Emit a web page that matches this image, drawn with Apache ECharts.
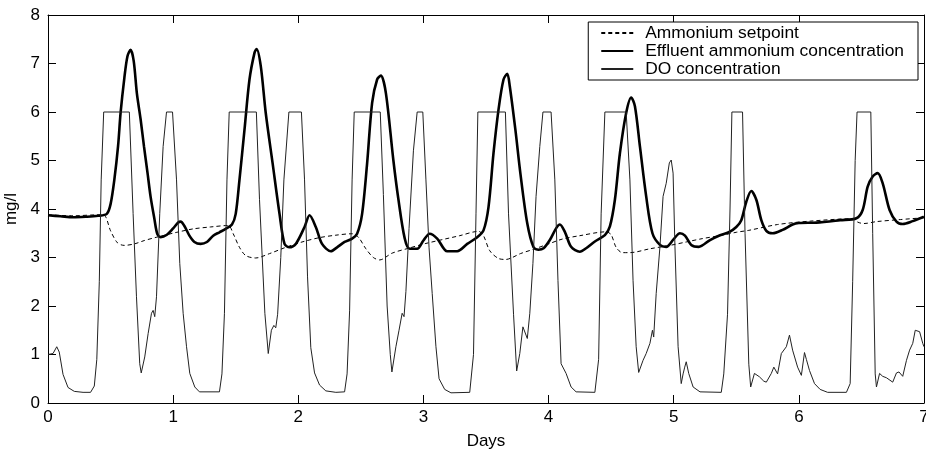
<!DOCTYPE html>
<html><head><meta charset="utf-8">
<script src="https://cdn.jsdelivr.net/npm/echarts@6/dist/echarts.min.js"></script>
<style>html,body{margin:0;padding:0;background:#fff}#c{width:926px;height:450px}</style>
</head><body><div id="c"></div>
<script>
const xTicks = [0,1,2,3,4,5,6,7];
const yTicks = [0,1,2,3,4,5,6,7,8];
const seriesNames = ['Ammonium setpoint','Effluent ammonium concentration','DO concentration'];

const setpointDays = [0,0.2,0.4,0.45,0.5,0.556,0.61,0.69,0.77,0.87,1.03,1.16,1.3,1.44,1.48,1.53,1.58,1.66,1.77,1.9,2.03,2.17,2.3,2.43,2.48,2.54,2.6,2.65,2.75,2.88,3.02,3.29,3.44,3.48,3.53,3.6,3.66,3.71,3.775,3.88,4.0,4.11,4.25,4.46,4.5,4.54,4.59,4.65,4.81,4.97,5.1,5.23,5.39,5.5,5.6,5.83,6.09,6.44,6.47,6.52,6.62,6.8,7.0];
const setpointVals = [3.88,3.86,3.88,3.87,3.55,3.3,3.25,3.28,3.35,3.42,3.52,3.59,3.63,3.66,3.49,3.21,3.04,2.99,3.08,3.21,3.32,3.41,3.46,3.49,3.42,3.18,3.0,2.95,3.09,3.19,3.29,3.45,3.54,3.45,3.14,2.98,2.96,3.0,3.08,3.17,3.28,3.38,3.45,3.53,3.47,3.21,3.1,3.1,3.18,3.25,3.32,3.39,3.46,3.52,3.56,3.68,3.75,3.8,3.73,3.7,3.74,3.78,3.82];

const effluentDays = [0,0.1,0.2,0.3,0.4,0.47,0.5,0.53,0.56,0.58,0.61,0.635,0.66,0.685,0.71,0.74,0.767,0.795,0.82,0.85,0.873,0.9,0.95,1.0,1.04,1.06,1.09,1.13,1.17,1.22,1.27,1.32,1.37,1.42,1.47,1.5,1.53,1.57,1.61,1.65,1.667,1.7,1.74,1.795,1.85,1.89,1.93,1.98,2.05,2.09,2.14,2.19,2.26,2.31,2.37,2.43,2.47,2.51,2.55,2.59,2.63,2.66,2.7,2.76,2.8,2.85,2.89,2.95,3.0,3.05,3.11,3.19,3.27,3.35,3.43,3.48,3.52,3.56,3.6,3.64,3.67,3.69,3.735,3.775,3.83,3.88,3.92,3.96,4.01,4.06,4.09,4.13,4.18,4.25,4.3,4.37,4.45,4.49,4.53,4.57,4.62,4.66,4.69,4.73,4.78,4.83,4.89,4.94,5.0,5.05,5.09,5.14,5.2,5.29,5.37,5.44,5.5,5.54,5.58,5.62,5.66,5.7,5.74,5.79,5.87,5.95,6.0,6.14,6.33,6.46,6.51,6.55,6.59,6.63,6.67,6.725,6.78,6.83,6.91,7.0];
const effluentVals = [3.87,3.85,3.83,3.84,3.86,3.9,4.1,4.6,5.3,5.98,6.7,7.15,7.28,7.05,6.39,5.85,5.29,4.75,4.25,3.8,3.49,3.42,3.47,3.6,3.72,3.74,3.65,3.45,3.32,3.28,3.32,3.45,3.52,3.59,3.68,3.9,4.6,5.63,6.67,7.22,7.3,6.95,5.98,4.94,3.9,3.28,3.21,3.28,3.63,3.87,3.63,3.28,3.13,3.21,3.32,3.39,3.49,3.9,4.94,6.19,6.67,6.75,6.39,5.0,4.2,3.4,3.18,3.18,3.35,3.49,3.39,3.13,3.13,3.28,3.42,3.56,4.04,5.15,6.05,6.67,6.79,6.53,5.63,4.73,3.7,3.21,3.16,3.19,3.36,3.6,3.68,3.53,3.22,3.12,3.19,3.33,3.46,3.64,4.19,5.15,5.98,6.3,6.12,5.29,4.26,3.5,3.26,3.22,3.38,3.5,3.45,3.26,3.22,3.36,3.46,3.52,3.63,3.77,4.15,4.37,4.19,3.77,3.55,3.5,3.57,3.68,3.71,3.72,3.77,3.81,3.98,4.46,4.67,4.74,4.53,3.98,3.74,3.69,3.75,3.84];

const doDays = [0,0.04,0.07,0.09,0.12,0.16,0.21,0.28,0.34,0.37,0.39,0.41,0.425,0.445,0.65,0.68,0.707,0.733,0.745,0.773,0.8,0.827,0.84,0.853,0.867,0.893,0.92,0.947,0.995,1.027,1.053,1.08,1.107,1.133,1.173,1.21,1.37,1.39,1.41,1.43,1.448,1.665,1.69,1.733,1.76,1.785,1.805,1.82,1.835,1.86,1.885,1.925,2.025,2.05,2.074,2.1,2.13,2.17,2.22,2.3,2.37,2.39,2.41,2.43,2.447,2.655,2.68,2.71,2.735,2.748,2.78,2.805,2.83,2.845,2.86,2.885,2.92,2.95,2.995,3.02,3.045,3.07,3.1,3.125,3.17,3.22,3.37,3.4,3.42,3.435,3.655,3.68,3.72,3.745,3.77,3.795,3.81,3.83,3.85,3.875,3.9,3.93,3.955,4.02,4.05,4.075,4.1,4.14,4.18,4.22,4.37,4.4,4.42,4.45,4.62,4.65,4.675,4.7,4.72,4.755,4.78,4.81,4.83,4.84,4.86,4.89,4.915,4.94,4.965,4.98,4.995,5.01,5.035,5.06,5.075,5.088,5.1,5.12,5.155,5.21,5.38,5.4,5.43,5.45,5.465,5.55,5.57,5.6,5.615,5.645,5.685,5.72,5.74,5.78,5.8,5.83,5.86,5.9,5.925,5.95,5.99,6.02,6.045,6.06,6.085,6.125,6.17,6.23,6.38,6.41,6.43,6.45,6.465,6.575,6.59,6.61,6.62,6.645,6.67,6.7,6.75,6.78,6.8,6.83,6.86,6.885,6.91,6.93,6.965,6.99,7.0];
const doVals = [1.0,1.02,1.16,1.05,0.59,0.32,0.24,0.22,0.22,0.35,0.9,2.5,4.6,6.0,6.0,3.91,2.19,0.81,0.62,0.95,1.43,1.85,1.91,1.78,2.19,3.91,5.29,6.0,6.0,4.6,2.88,1.85,1.16,0.61,0.33,0.23,0.23,0.6,1.85,4.6,6.0,6.0,4.2,1.85,1.02,1.5,1.6,1.55,1.83,3.0,4.6,6.0,6.0,4.6,2.6,1.14,0.62,0.37,0.25,0.22,0.23,0.6,1.9,4.6,6.0,6.0,4.3,2.0,1.0,0.64,1.16,1.5,1.85,1.78,2.3,3.6,5.2,6.0,6.0,4.6,3.2,2.26,1.16,0.5,0.28,0.21,0.22,1.0,3.9,6.0,6.0,3.9,1.83,0.66,1.02,1.57,1.6,1.33,1.85,2.88,4.26,5.29,6.0,6.0,4.6,2.53,0.81,0.61,0.33,0.23,0.22,0.9,3.9,6.0,6.0,4.6,2.53,1.16,0.63,0.88,1.02,1.23,1.5,1.36,2.26,3.22,4.26,4.53,4.95,5.01,4.74,3.22,1.16,0.4,0.6,0.74,0.85,0.61,0.33,0.23,0.22,0.6,1.83,4.0,6.0,6.0,3.5,0.8,0.33,0.61,0.54,0.45,0.43,0.61,0.74,0.6,1.02,1.16,1.4,1.09,0.74,0.57,1.04,0.9,0.67,0.4,0.28,0.22,0.22,0.4,2.5,5.0,6.0,6.0,3.5,0.6,0.33,0.61,0.55,0.52,0.43,0.62,0.64,0.55,0.88,1.09,1.23,1.5,1.47,1.23,1.16];

function zip(a,b){return a.map((v,i)=>[v,b[i]]);}

const FONT = 'Liberation Sans, Arial, sans-serif';
const chart = echarts.init(document.getElementById('c'), null, {renderer:'canvas'});
const axisCommon = {
  axisLine:{show:true,onZero:false,lineStyle:{color:'#000',width:1}},
  axisTick:{show:true,inside:true,length:8,lineStyle:{color:'#000',width:1}},
  splitLine:{show:false}
};
chart.setOption({
  animation:false,
  backgroundColor:'#fff',
  grid:{left:48,right:2,top:15,bottom:47,containLabel:false,outerBoundsMode:'none'},
  legend:{
    data:seriesNames,
    orient:'vertical',
    right:8, top:22,
    backgroundColor:'#fff',
    borderColor:'#000', borderWidth:1, borderRadius:0,
    padding:[2,14,2,12],
    itemGap:0,
    itemWidth:32, itemHeight:12,
    itemStyle:{color:'rgba(0,0,0,0)',borderWidth:0,opacity:0},
    textStyle:{fontFamily:FONT,fontSize:17.4,lineHeight:18,color:'#000',padding:[0,0,0,7]},
    selectedMode:false
  },
  xAxis:[
    Object.assign({type:'value',min:0,max:7,interval:1,position:'bottom',
      name:'Days',nameLocation:'middle',nameGap:30,
      nameTextStyle:{fontFamily:FONT,fontSize:17,color:'#000'},
      axisLabel:{fontFamily:FONT,fontSize:17,color:'#000',margin:6,
        formatter:v=>xTicks.includes(v)?String(v):''}},axisCommon),
    Object.assign({type:'value',min:0,max:7,interval:1,position:'top',axisLabel:{show:false}},axisCommon)
  ],
  yAxis:[
    Object.assign({type:'value',min:0,max:8,interval:1,position:'left',
      name:'mg/l',nameLocation:'middle',nameGap:22,nameRotate:90,
      nameTextStyle:{fontFamily:FONT,fontSize:17,color:'#000'},
      axisLabel:{fontFamily:FONT,fontSize:17,color:'#000',margin:8,
        formatter:v=>yTicks.includes(v)?String(v):''}},axisCommon),
    Object.assign({type:'value',min:0,max:8,interval:1,position:'right',axisLabel:{show:false}},axisCommon)
  ],
  series:[
    {name:seriesNames[0],type:'line',data:zip(setpointDays,setpointVals),symbol:'none',showSymbol:false,
      smooth:0.3,lineStyle:{color:'#000',width:1,type:[4,3]},itemStyle:{color:'#000'}},
    {name:seriesNames[1],type:'line',data:zip(effluentDays,effluentVals),symbol:'none',showSymbol:false,
      smooth:0.3,lineStyle:{color:'#000',width:2.6},itemStyle:{color:'#000'}},
    {name:seriesNames[2],type:'line',data:zip(doDays,doVals),symbol:'none',showSymbol:false,
      lineStyle:{color:'#222',width:1},itemStyle:{color:'#222'}}
  ]
});
</script></body></html>
